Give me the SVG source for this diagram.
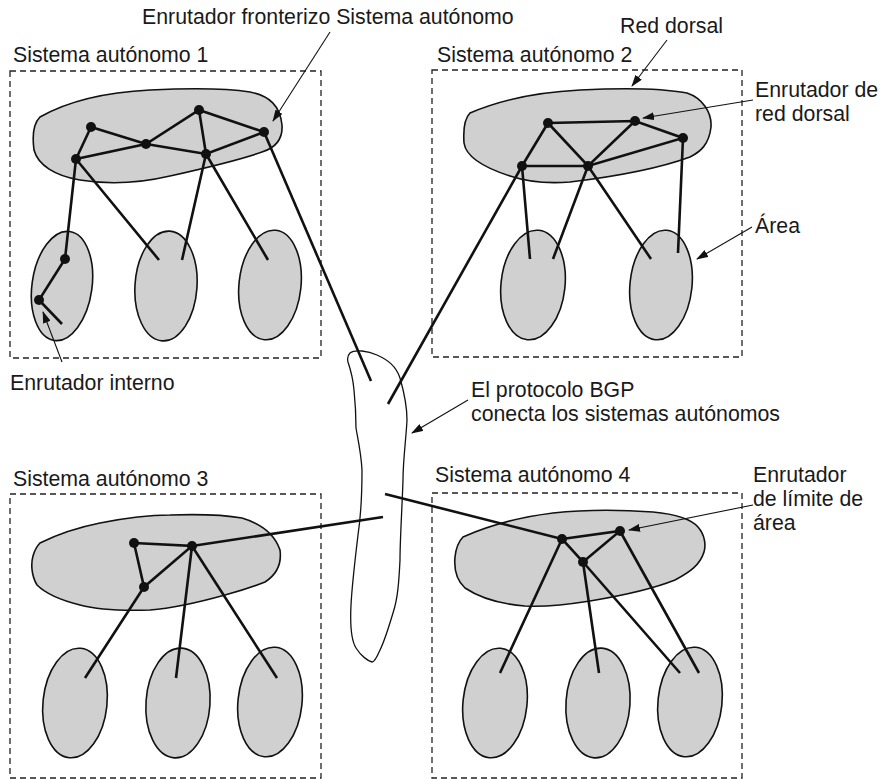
<svg xmlns="http://www.w3.org/2000/svg" width="881" height="780" viewBox="0 0 881 780">
<defs>
<style>
.t{font-family:"Liberation Sans",Arial,sans-serif;font-size:21.3px;fill:#1a1a1a}
.box{fill:none;stroke:#222;stroke-width:1.3;stroke-dasharray:6 4}
.blob{fill:#d0d0d0;stroke:#111;stroke-width:1.6}
.area{fill:#d0d0d0;stroke:#111;stroke-width:1.6}
.ln{stroke:#111;stroke-width:2.6;fill:none;stroke-linecap:butt}
.nd{fill:#111}
.ar{stroke:#111;stroke-width:1.1;fill:none;marker-end:url(#ah)}
.bgp{fill:#fff;stroke:#111;stroke-width:1.3}
</style>
<marker id="ah" viewBox="0 0 12 8" refX="11" refY="4" markerWidth="12" markerHeight="8" markerUnits="userSpaceOnUse" orient="auto">
<path d="M0,0 L12,4 L0,8 z" fill="#111"/>
</marker>
</defs>
<rect width="881" height="780" fill="#fff"/>

<g id="bgp">
<path class="bgp" d="M350,353 C355,349 368,351 377,355 C388,360 396,366 400,378 C404,392 407,405 407,420 C406,440 403,460 403,480 C402,510 400,540 400,560 C399,580 398,598 393,613 C389,626 385,640 380,650 C377,657 374,662 372,662 C368,661 361,656 356,648 C351,640 350,625 351,605 C352,585 355,560 358,535 C361,515 362,495 362,470 C361,452 358,440 356,428 C356,415 355,400 354,390 C353,378 350,368 348,362 C347,358 348,355 350,353 z"/>
</g>

<g id="as1">
<rect class="box" x="10" y="71" width="311" height="287"/>
<path class="blob" d="M40,117 C70,100 110,92 150,90 C190,88 225,88 250,92 C270,96 280,106 282,125 C283,140 275,148 262,152 C240,160 210,167 170,176 C140,183 110,185 80,180 C55,176 38,165 34,150 C32,135 33,124 40,117 z"/>
<ellipse class="area" cx="62" cy="286" rx="30" ry="55" transform="rotate(8 62 286)"/>
<ellipse class="area" cx="166" cy="286" rx="31" ry="55" transform="rotate(4 166 286)"/>
<ellipse class="area" cx="270" cy="285" rx="31" ry="55" transform="rotate(6 270 285)"/>
</g>

<g id="as2">
<rect class="box" x="432" y="70" width="310" height="287"/>
<path class="blob" d="M470,113 C500,100 540,92 580,90 C620,88 660,88 687,93 C702,98 712,112 711,127 C709,145 700,152 690,157 C660,168 620,176 570,182 C545,184 525,181 510,176 C485,168 466,157 464,143 C463,128 465,118 470,113 z"/>
<ellipse class="area" cx="533" cy="285" rx="32" ry="55" transform="rotate(6 533 285)"/>
<ellipse class="area" cx="661" cy="285" rx="31" ry="55" transform="rotate(6 661 285)"/>
</g>

<g id="as3">
<rect class="box" x="10" y="494" width="311" height="284"/>
<path class="blob" d="M40,543 C60,533 80,527 100,523 C125,518 150,515 170,515 C200,514 225,515 242,518 C262,524 275,535 280,550 C282,565 276,575 265,582 C250,588 240,591 225,595 C200,602 175,608 150,610 C120,611 95,609 80,605 C60,600 45,593 37,585 C31,575 31,563 33,556 C35,549 37,546 40,543 z"/>
<ellipse class="area" cx="75" cy="703" rx="32" ry="55" transform="rotate(6 75 703)"/>
<ellipse class="area" cx="178" cy="703" rx="32" ry="55" transform="rotate(4 178 703)"/>
<ellipse class="area" cx="270" cy="702" rx="32" ry="55" transform="rotate(6 270 702)"/>
</g>

<g id="as4">
<rect class="box" x="432" y="493" width="310" height="285"/>
<path class="blob" d="M463,537 C490,525 520,517 553,513 C590,509 625,510 653,512 C675,514 690,518 698,527 C705,535 706,545 704,552 C700,565 690,572 675,580 C650,590 620,596 590,601 C565,605 545,607 525,606 C500,604 480,598 465,588 C456,580 454,568 455,557 C456,548 459,541 463,537 z"/>
<ellipse class="area" cx="495" cy="703" rx="32" ry="55" transform="rotate(6 495 703)"/>
<ellipse class="area" cx="598" cy="703" rx="32" ry="55" transform="rotate(4 598 703)"/>
<ellipse class="area" cx="690" cy="702" rx="32" ry="55" transform="rotate(6 690 702)"/>
</g>

<g id="connectors">
<path class="ln" d="M91,127 L76,159 M91,127 L146,144 M76,159 L146,144 L199,110 L264,132 M146,144 L206,154 L264,132 M199,110 L206,154"/>
<path class="ln" d="M76,159 L65,259 L39,300 L62,324 M76,159 L159,260 M206,154 L182,260 M206,154 L268,260"/>
<path class="ln" d="M264,132 L371,381"/>
<path class="ln" d="M548,123 L635,121 L683,138 L588,166 L522,166 L548,123 L588,166 L635,121"/>
<path class="ln" d="M522,166 L530,259 M588,166 L553,259 M588,166 L651,259 M683,138 L678,253"/>
<path class="ln" d="M522,166 L388,404"/>
<path class="ln" d="M134,543 L192,546 L144,587 Z"/>
<path class="ln" d="M144,587 L85,678 M192,546 L176,678 M192,546 L277,678"/>
<path class="ln" d="M192,546 L383,517"/>
<path class="ln" d="M562,539 L620,531 L583,562 Z"/>
<path class="ln" d="M562,539 L500,673 M583,562 L599,673 M583,562 L680,673 M620,531 L699,673"/>
<path class="ln" d="M385,494 L562,539"/>
<path class="ar" d="M330,32 L273,121"/>
<path class="ar" d="M62,362 L43,312"/>
<path class="ar" d="M667,40 L632,86"/>
<path class="ar" d="M753,100 L643,118"/>
<path class="ar" d="M752,227 L697,259"/>
<path class="ar" d="M468,400 L412,433"/>
<path class="ar" d="M753,505 L629,530"/>
</g>

<g id="routers">
<circle class="nd" cx="91" cy="127" r="5"/>
<circle class="nd" cx="76" cy="159" r="5"/>
<circle class="nd" cx="146" cy="144" r="5"/>
<circle class="nd" cx="199" cy="110" r="5"/>
<circle class="nd" cx="206" cy="154" r="5"/>
<circle class="nd" cx="264" cy="132" r="5"/>
<circle class="nd" cx="65" cy="259" r="5"/>
<circle class="nd" cx="39" cy="300" r="5"/>
<circle class="nd" cx="548" cy="123" r="5"/>
<circle class="nd" cx="635" cy="121" r="5"/>
<circle class="nd" cx="683" cy="138" r="5"/>
<circle class="nd" cx="522" cy="166" r="5"/>
<circle class="nd" cx="588" cy="166" r="5"/>
<circle class="nd" cx="134" cy="543" r="5"/>
<circle class="nd" cx="192" cy="546" r="5"/>
<circle class="nd" cx="144" cy="587" r="5"/>
<circle class="nd" cx="562" cy="539" r="5"/>
<circle class="nd" cx="620" cy="531" r="5"/>
<circle class="nd" cx="583" cy="562" r="5"/>
</g>

<g id="labels">
<text class="t" x="142" y="24">Enrutador fronterizo Sistema autónomo</text>
<text class="t" x="13" y="62">Sistema autónomo 1</text>
<text class="t" x="620" y="33">Red dorsal</text>
<text class="t" x="437" y="62">Sistema autónomo 2</text>
<text class="t" x="755" y="97">Enrutador de</text>
<text class="t" x="755" y="121">red dorsal</text>
<text class="t" x="755" y="233">Área</text>
<text class="t" x="10" y="390">Enrutador interno</text>
<text class="t" x="471" y="397">El protocolo BGP</text>
<text class="t" x="471" y="421">conecta los sistemas autónomos</text>
<text class="t" x="13" y="486">Sistema autónomo 3</text>
<text class="t" x="435" y="482">Sistema autónomo 4</text>
<text class="t" x="753" y="482">Enrutador</text>
<text class="t" x="753" y="506">de límite de</text>
<text class="t" x="753" y="530">área</text>
</g>
</svg>
